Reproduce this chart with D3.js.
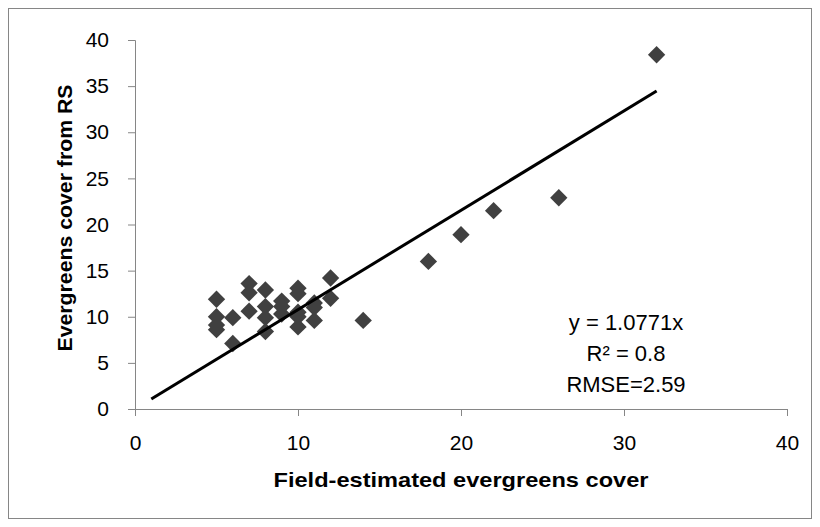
<!DOCTYPE html>
<html>
<head>
<meta charset="utf-8">
<script src="https://cdn.jsdelivr.net/npm/d3@7"></script>
<style>
  body { margin: 0; background: #fff; }
  svg { display: block; }
</style>
</head>
<body>
<div id="chart"></div>
<script>
// Field-estimated vs RS evergreens cover
const fieldCover = [32, 26, 22, 20, 18, 14,
  5, 5, 5, 5, 6, 6,
  7, 7, 7, 8, 8, 8, 8,
  9, 9, 9, 10, 10, 10, 10, 10,
  11, 11, 11, 12, 12];
const rsCover = [38.4, 22.9, 21.5, 18.9, 16.0, 9.6,
  11.9, 10.0, 9.1, 8.6, 9.9, 7.1,
  13.6, 12.6, 10.6, 12.9, 11.1, 9.9, 8.4,
  11.7, 11.1, 10.3, 13.1, 12.5, 10.5, 10.0, 8.9,
  11.5, 11.0, 9.6, 14.2, 12.0];
const slope = 1.0771;
const fitRange = [1, 32];
const xTicks = [0, 10, 20, 30, 40];
const yTicks = [0, 5, 10, 15, 20, 25, 30, 35, 40];
const statLines = ["y = 1.0771x", "R² = 0.8", "RMSE=2.59"];

const width = 820, height = 527;
const margin = {top: 40, right: 33, bottom: 118, left: 135};

const svg = d3.select("#chart").append("svg")
  .attr("width", width)
  .attr("height", height);

// outer frame
svg.append("rect")
  .attr("x", 8.5).attr("y", 8.5)
  .attr("width", 803).attr("height", 510)
  .attr("fill", "none")
  .attr("stroke", "#868686");

const x = d3.scaleLinear().domain([0, 40]).range([margin.left, width - margin.right]);
const y = d3.scaleLinear().domain([0, 40]).range([height - margin.bottom, margin.top]);

const font = "'Liberation Sans', Arial, sans-serif";

// x axis
const xAxis = svg.append("g")
  .attr("transform", "translate(0," + y(0) + ")")
  .call(d3.axisBottom(x).tickValues(xTicks).tickSize(7).tickPadding(19));
// y axis
const yAxis = svg.append("g")
  .attr("transform", "translate(" + x(0) + ",0)")
  .call(d3.axisLeft(y).tickValues(yTicks).tickSize(7).tickPadding(19));

[xAxis, yAxis].forEach(a => {
  a.select(".domain").attr("stroke", "#868686");
  a.selectAll(".tick line").attr("stroke", "#868686");
  a.selectAll(".tick text")
    .attr("fill", "#000")
    .style("font-family", font)
    .style("font-size", "21px");
});

// points
const diamond = d3.symbol().type(d3.symbolSquare).size(150);
svg.append("g")
  .selectAll("path")
  .data(fieldCover.map((d, i) => [d, rsCover[i]]))
  .enter()
  .append("path")
  .attr("d", diamond)
  .attr("transform", d => "translate(" + x(d[0]) + "," + y(d[1]) + ") rotate(45)")
  .attr("fill", "#404040");

// trend line
svg.append("line")
  .attr("x1", x(fitRange[0])).attr("y1", y(fitRange[0] * slope))
  .attr("x2", x(fitRange[1])).attr("y2", y(fitRange[1] * slope))
  .attr("stroke", "#000")
  .attr("stroke-width", 3);

// stats text
svg.append("g")
  .selectAll("text")
  .data(statLines)
  .enter()
  .append("text")
  .attr("x", 626)
  .attr("y", (d, i) => 330 + i * 31)
  .attr("text-anchor", "middle")
  .style("font-family", font)
  .style("font-size", "22px")
  .text(d => d);

// axis titles
svg.append("text")
  .attr("x", (x(0) + x(40)) / 2)
  .attr("y", 487)
  .attr("text-anchor", "middle")
  .attr("textLength", 375)
  .attr("lengthAdjust", "spacingAndGlyphs")
  .style("font-family", font)
  .style("font-weight", "bold")
  .style("font-size", "21px")
  .text("Field-estimated evergreens cover");

svg.append("text")
  .attr("transform", "translate(72,218) rotate(-90)")
  .attr("text-anchor", "middle")
  .attr("textLength", 267)
  .attr("lengthAdjust", "spacingAndGlyphs")
  .style("font-family", font)
  .style("font-weight", "bold")
  .style("font-size", "21px")
  .text("Evergreens cover from RS");
</script>
</body>
</html>
